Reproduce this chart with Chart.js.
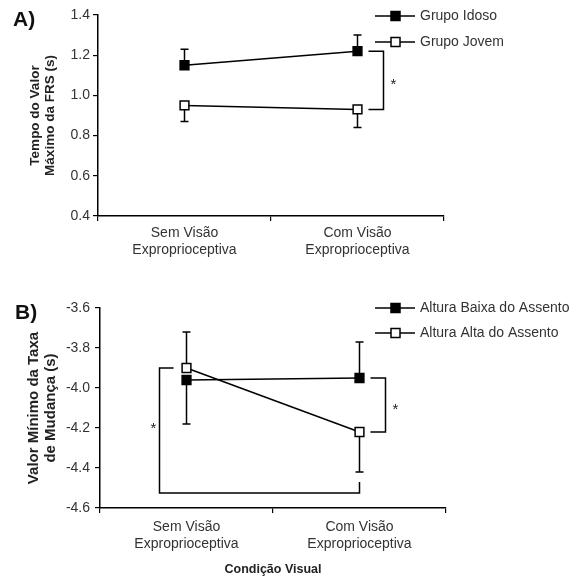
<!DOCTYPE html>
<html>
<head>
<meta charset="utf-8">
<script src="https://cdn.jsdelivr.net/npm/chart.js@4.4.0/dist/chart.umd.min.js"></script>
<style>
  body { margin: 0; background: #fff; }
  .panel { position: absolute; left: 0; width: 579px; }
  #panelA { top: 0; height: 260px; }
  #panelB { top: 260px; height: 317px; }
</style>
</head>
<body>
<div class="panel" id="panelA"><canvas id="chartA" width="579" height="260"></canvas></div>
<div class="panel" id="panelB"><canvas id="chartB" width="579" height="317"></canvas></div>
<script>
const conditions = [['Sem Visão', 'Exproprioceptiva'], ['Com Visão', 'Exproprioceptiva']];

// A) tempo do valor maximo da FRS
const idosoMeans = [1.15, 1.22];
const idosoErrEnd = [1.23, 1.30];
const jovemMeans = [0.95, 0.93];
const jovemErrEnd = [0.87, 0.84];
const ticksA = [0.4, 0.6, 0.8, 1.0, 1.2, 1.4];

// B) valor minimo da taxa de mudanca
const baixaMeans = [-3.96, -3.95];
const baixaErrEnd = [-4.18, -3.77];
const altaMeans = [-3.90, -4.22];
const altaErrEnd = [-3.72, -4.42];
const ticksB = [-4.6, -4.4, -4.2, -4.0, -3.8, -3.6];

Chart.defaults.font.family = "'Liberation Sans', Arial, sans-serif";
Chart.defaults.color = '#333';

function series(label, data, errEnd, filled) {
  return {
    label: label,
    data: data,
    errEnd: errEnd,
    borderColor: '#000',
    borderWidth: 1.5,
    pointStyle: 'rect',
    pointRadius: 6.2,
    pointBorderWidth: 1.5,
    pointBorderColor: '#000',
    pointBackgroundColor: filled ? '#000' : '#fff',
    tension: 0
  };
}

const errorBars = {
  id: 'errorBars',
  beforeDatasetsDraw(chart) {
    const ctx = chart.ctx;
    const y = chart.scales.y;
    ctx.save();
    ctx.strokeStyle = '#000';
    ctx.lineWidth = 1.5;
    chart.data.datasets.forEach((ds, i) => {
      const meta = chart.getDatasetMeta(i);
      ds.errEnd.forEach((v, j) => {
        if (v == null) return;
        const p = meta.data[j];
        const yEnd = y.getPixelForValue(v);
        ctx.beginPath();
        ctx.moveTo(p.x, p.y);
        ctx.lineTo(p.x, yEnd);
        ctx.moveTo(p.x - 4, yEnd);
        ctx.lineTo(p.x + 4, yEnd);
        ctx.stroke();
      });
    });
    ctx.restore();
  }
};

// legend with line + marker, panel letter, brackets
const extras = {
  id: 'extras',
  afterDraw(chart, args, opts) {
    const ctx = chart.ctx;
    ctx.save();
    // panel letter
    ctx.fillStyle = '#111';
    ctx.font = "bold 21px 'Liberation Sans', Arial, sans-serif";
    ctx.textBaseline = 'middle';
    ctx.textAlign = 'left';
    ctx.fillText(opts.letter, opts.letterX, opts.letterY);

    // legend
    ctx.font = "14px 'Liberation Sans', Arial, sans-serif";
    chart.data.datasets.forEach((ds, i) => {
      const ly = opts.legendY + i * opts.legendGap;
      const lx = opts.legendX;
      ctx.strokeStyle = '#000';
      ctx.lineWidth = 1.5;
      ctx.beginPath();
      ctx.moveTo(lx, ly);
      ctx.lineTo(lx + 40, ly);
      ctx.stroke();
      ctx.fillStyle = ds.pointBackgroundColor;
      ctx.fillRect(lx + 16, ly - 4.5, 9, 9);
      ctx.strokeRect(lx + 16, ly - 4.5, 9, 9);
      ctx.fillStyle = '#333';
      ctx.fillText(ds.label, lx + 45, ly);
    });

    // right bracket between the two groups at "Com Visao"
    const m0 = chart.getDatasetMeta(0).data;
    const m1 = chart.getDatasetMeta(1).data;
    const xc = m0[1].x;
    ctx.strokeStyle = '#000';
    ctx.lineWidth = 1.5;
    ctx.beginPath();
    ctx.moveTo(xc + 11, m0[1].y);
    ctx.lineTo(xc + 26, m0[1].y);
    ctx.lineTo(xc + 26, m1[1].y);
    ctx.lineTo(xc + 11, m1[1].y);
    ctx.stroke();
    ctx.fillStyle = '#222';
    ctx.font = "15px 'Liberation Sans', Arial, sans-serif";
    ctx.textAlign = 'center';
    ctx.fillText('*', xc + 36, (m0[1].y + m1[1].y) / 2 + 5);

    if (opts.bigBracket) {
      const xs = m1[0].x;
      const ys = m1[0].y;
      const yLow = chart.scales.y.getPixelForValue(chart.data.datasets[1].errEnd[1]) + 21;
      ctx.beginPath();
      ctx.moveTo(xs - 13, ys);
      ctx.lineTo(xs - 27, ys);
      ctx.lineTo(xs - 27, yLow);
      ctx.lineTo(xc, yLow);
      ctx.lineTo(xc, yLow - 11);
      ctx.stroke();
      ctx.fillText('*', xs - 33, (ys + yLow) / 2 - 2);
    }
    ctx.restore();
  }
};

function makeChart(id, datasets, cfg) {
  return new Chart(document.getElementById(id), {
    type: 'line',
    data: { labels: conditions, datasets: datasets },
    plugins: [errorBars, extras],
    options: {
      responsive: false,
      animation: false,
      layout: { padding: { left: 0, top: cfg.top, right: cfg.right, bottom: 0 } },
      plugins: {
        legend: { display: false },
        tooltip: { enabled: false },
        extras: cfg.extras
      },
      scales: {
        x: {
          type: 'category',
          offset: true,
          afterFit: s => { s.height = cfg.xHeight; },
          border: { color: '#000', width: 1.5 },
          grid: { offset: true, drawOnChartArea: false, color: '#000', tickLength: 5, lineWidth: 1.2 },
          ticks: { font: { size: 14, lineHeight: 1.2 }, padding: cfg.xPad, maxRotation: 0, autoSkip: false, color: '#333' },
          title: cfg.xTitle ? {
            display: true, text: cfg.xTitle, color: '#222',
            font: { size: 12.5, weight: 'bold' }, padding: { top: 0, bottom: 0 }
          } : { display: false }
        },
        y: {
          min: cfg.ticks[0],
          max: cfg.ticks[cfg.ticks.length - 1],
          afterFit: s => { s.width = cfg.yWidth; },
          afterBuildTicks: s => { s.ticks = cfg.ticks.map(v => ({ value: v })); },
          border: { color: '#000', width: 1.5 },
          grid: { drawOnChartArea: false, color: '#000', tickLength: 5, lineWidth: 1.2 },
          ticks: { padding: cfg.yPad, font: { size: 14 }, color: '#333', callback: v => v.toFixed(1) },
          title: {
            display: true, text: cfg.yTitle, color: '#222',
            font: { size: cfg.yTitleSize, weight: 'bold', lineHeight: 1.1 },
            padding: { top: cfg.yTitlePad, bottom: 0 }
          }
        }
      }
    }
  });
}

makeChart('chartA', [
  series('Grupo Idoso', idosoMeans, idosoErrEnd, true),
  series('Grupo Jovem', jovemMeans, jovemErrEnd, false)
], {
  top: 15, right: 135, xHeight: 44, xPad: 4, yWidth: 98, yPad: 3,
  yTitlePad: 28, yTitleSize: 13.5,
  ticks: ticksA,
  yTitle: ['Tempo do Valor', 'Máximo da FRS (s)'],
  extras: { letter: 'A)', letterX: 13, letterY: 20, legendX: 375, legendY: 16, legendGap: 26, bigBracket: false }
});

makeChart('chartB', [
  series('Altura Baixa do Assento', baixaMeans, baixaErrEnd, true),
  series('Altura Alta do Assento', altaMeans, altaErrEnd, false)
], {
  top: 48, right: 133, xHeight: 69, xPad: 6, yWidth: 100, yPad: 5,
  yTitlePad: 26, yTitleSize: 15,
  ticks: ticksB,
  yTitle: ['Valor Mínimo da Taxa', 'de Mudança (s)'],
  xTitle: 'Condição Visual',
  extras: { letter: 'B)', letterX: 15, letterY: 53, legendX: 375, legendY: 48, legendGap: 25, bigBracket: true }
});
</script>
</body>
</html>
